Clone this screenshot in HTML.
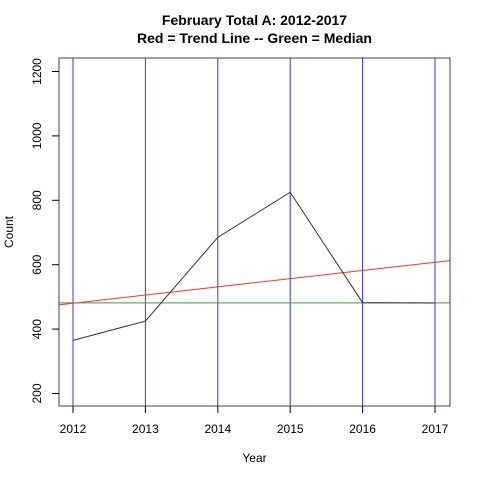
<!DOCTYPE html>
<html><head><meta charset="utf-8"><style>body{margin:0;background:#fff}svg{display:block}text{font-family:"Liberation Sans",Arial,sans-serif}</style></head>
<body>
<svg id="chart" width="480" height="480" xmlns="http://www.w3.org/2000/svg">
<text x="254.5" y="25" text-anchor="middle" font-size="14" font-weight="bold">February Total A: 2012-2017</text>
<text x="254.5" y="43" text-anchor="middle" font-size="14" font-weight="bold">Red = Trend Line -- Green = Median</text>
<text x="254.5" y="462" text-anchor="middle" font-size="12">Year</text>
<text transform="translate(13,232) rotate(-90)" text-anchor="middle" font-size="12">Count</text>
<g id="plot"></g>
</svg>
<script>
const years=[2012,2013,2014,2015,2016,2017];
const counts=[365,425,685,825,482,481];
const yTicks=[200,400,600,800,1000,1200];
const xTicks=[2012,2013,2014,2015,2016,2017];
const NS="http://www.w3.org/2000/svg";
const L=59,R=450,T=58,B=406;
const xs=v=>73+(v-2012)*72.4;
const ys=v=>393.5-(v-200)*0.322;
const g=document.getElementById('plot');
function mk(t,a){const e=document.createElementNS(NS,t);for(const k in a)e.setAttribute(k,a[k]);g.appendChild(e);return e;}
xTicks.forEach((yr)=>{const e=mk('line',{x1:xs(yr),x2:xs(yr),y1:T,y2:B,stroke:'#3333ff','stroke-width':1});

});
const s=[...counts].sort((a,b)=>a-b);const n=s.length;const med=n%2?s[(n-1)/2]:(s[n/2-1]+s[n/2])/2;
const m=mk('line',{x1:L,x2:R,y1:ys(med),y2:ys(med),stroke:'#3a9a3a','stroke-width':1});


const mx=years.reduce((a,b)=>a+b)/n,my=counts.reduce((a,b)=>a+b)/n;
let sxy=0,sxx=0;years.forEach((x,i)=>{sxy+=(x-mx)*(counts[i]-my);sxx+=(x-mx)**2;});
const sl=sxy/sxx,ic=my-sl*mx;
const x0=2012+(L-73)/72.4,x1=2012+(R-73)/72.4;
const tr=mk('line',{x1:L,x2:R,y1:ys(ic+sl*x0),y2:ys(ic+sl*x1),stroke:'#ff3333','stroke-width':1});


const p=mk('polyline',{points:years.map((y,i)=>xs(y)+','+ys(counts[i])).join(' '),fill:'none',stroke:'#333','stroke-width':1});


const f=mk('rect',{x:L,y:T,width:R-L,height:B-T,fill:'none',stroke:'#444','stroke-width':1});


yTicks.forEach(v=>{const t=mk('line',{x1:L-7,x2:L,y1:ys(v),y2:ys(v),stroke:'#000'});


const tx=mk('text',{transform:`translate(${L-18},${ys(v)}) rotate(-90)`,'text-anchor':'middle','font-size':12});tx.textContent=v;

});
xTicks.forEach(v=>{const t=mk('line',{x1:xs(v),x2:xs(v),y1:B,y2:B+7,stroke:'#000'});


const tx=mk('text',{x:xs(v),y:433,'text-anchor':'middle','font-size':12});tx.textContent=v;

});
</script>
</body></html>
